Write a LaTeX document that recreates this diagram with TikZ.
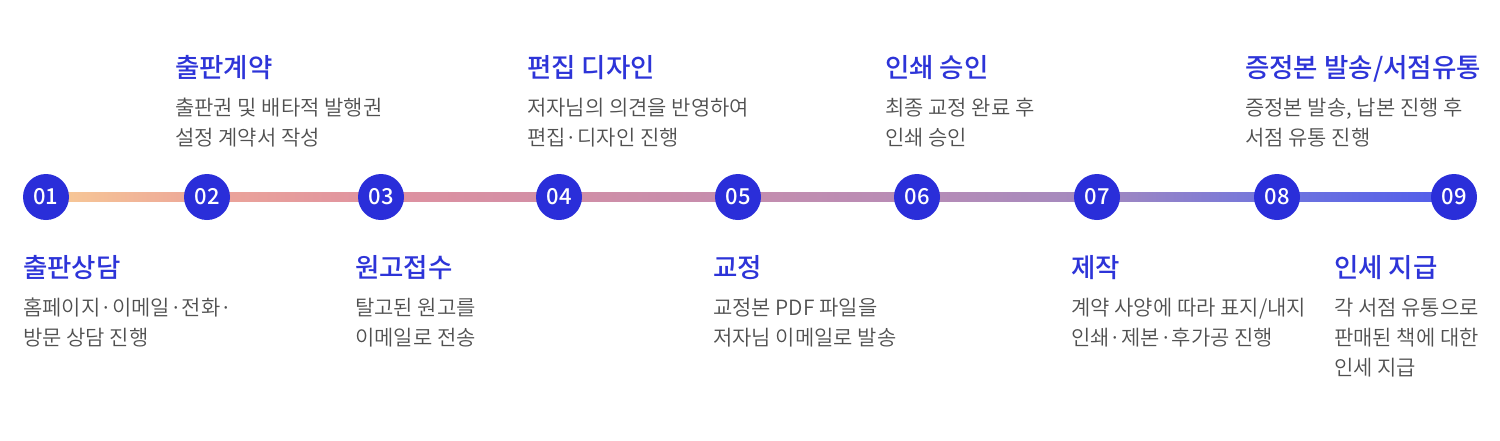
\documentclass[tikz,border=0pt]{standalone}
\usepackage{fontspec}
\newfontfamily\kr{Noto Sans CJK KR DemiLight}
\newfontfamily\krmed{Noto Sans CJK KR Medium}
\usetikzlibrary{calc}
\definecolor{dotblue}{RGB}{42,46,217}
\definecolor{ttlblue}{RGB}{45,52,216}
\definecolor{descgray}{RGB}{80,80,80}
\definecolor{g1}{RGB}{248,203,150}
\definecolor{g2}{RGB}{236,165,153}
\definecolor{g3}{RGB}{223,146,160}
\definecolor{g4}{RGB}{209,142,166}
\definecolor{g5}{RGB}{197,141,174}
\definecolor{g6}{RGB}{183,140,182}
\definecolor{g7}{RGB}{163,137,191}
\definecolor{g8}{RGB}{112,117,222}
\definecolor{g9}{RGB}{80,92,235}
\tikzset{
  numdot/.style={circle, fill=dotblue, minimum size=46pt, inner sep=0pt, text=white, font=\krmed\fontsize{22}{22}\selectfont},
  ttl/.style={anchor=base west, inner sep=0pt, text=ttlblue, font=\krmed\fontsize{26.5}{26.5}\selectfont},
  desc/.style={anchor=base west, inner sep=0pt, text=descgray, font=\kr\fontsize{21}{21}\selectfont},
}
\begin{document}
\begin{tikzpicture}[x=1pt,y=-1pt]
\useasboundingbox (0,0) rectangle (1500,440);
% centres
\coordinate (p1) at (46,197);
\coordinate (p2) at (207,197);
\coordinate (p3) at (381,197);
\coordinate (p4) at (559,197);
\coordinate (p5) at (738,197);
\coordinate (p6) at (917,197);
\coordinate (p7) at (1097,197);
\coordinate (p8) at (1277,197);
\coordinate (p9) at (1454,197);
% gradient bar
\shade[left color=g1, right color=g2] ([yshift=-4.5pt]p1) rectangle ([yshift=4.5pt]p2);
\shade[left color=g2, right color=g3] ([yshift=-4.5pt]p2) rectangle ([yshift=4.5pt]p3);
\shade[left color=g3, right color=g4] ([yshift=-4.5pt]p3) rectangle ([yshift=4.5pt]p4);
\shade[left color=g4, right color=g5] ([yshift=-4.5pt]p4) rectangle ([yshift=4.5pt]p5);
\shade[left color=g5, right color=g6] ([yshift=-4.5pt]p5) rectangle ([yshift=4.5pt]p6);
\shade[left color=g6, right color=g7] ([yshift=-4.5pt]p6) rectangle ([yshift=4.5pt]p7);
\shade[left color=g7, right color=g8] ([yshift=-4.5pt]p7) rectangle ([yshift=4.5pt]p8);
\shade[left color=g8, right color=g9] ([yshift=-4.5pt]p8) rectangle ([yshift=4.5pt]p9);
% dots
\node[numdot] (c01) at (p1) {01};
\node[numdot] (c02) at (p2) {02};
\node[numdot] (c03) at (p3) {03};
\node[numdot] (c04) at (p4) {04};
\node[numdot] (c05) at (p5) {05};
\node[numdot] (c06) at (p6) {06};
\node[numdot] (c07) at (p7) {07};
\node[numdot] (c08) at (p8) {08};
\node[numdot] (c09) at (p9) {09};
% 01
\node[ttl] (t01) at (23,277) {출판상담};
\node[desc] (d01a) at (23,315.5) {홈페이지·이메일·전화·};
\node[desc] (d01b) at (23,345) {방문 상담 진행};
% 02
\node[ttl] (t02) at (175,77) {출판계약};
\node[desc] (d02a) at (175,115.5) {출판권 및 배타적 발행권};
\node[desc] (d02b) at (175,145) {설정 계약서 작성};
% 03
\node[ttl] (t03) at (355,277) {원고접수};
\node[desc] (d03a) at (355,315.5) {탈고된 원고를};
\node[desc] (d03b) at (355,345) {이메일로 전송};
% 04
\node[ttl] (t04) at (527,77) {편집 디자인};
\node[desc] (d04a) at (527,115.5) {저자님의 의견을 반영하여};
\node[desc] (d04b) at (527,145) {편집·디자인 진행};
% 05
\node[ttl] (t05) at (713,277) {교정};
\node[desc] (d05a) at (713,315.5) {교정본 PDF 파일을};
\node[desc] (d05b) at (713,345) {저자님 이메일로 발송};
% 06
\node[ttl] (t06) at (885,77) {인쇄 승인};
\node[desc] (d06a) at (885,115.5) {최종 교정 완료 후};
\node[desc] (d06b) at (885,145) {인쇄 승인};
% 07
\node[ttl] (t07) at (1071,277) {제작};
\node[desc] (d07a) at (1071,315.5) {계약 사양에 따라 표지/내지};
\node[desc] (d07b) at (1071,345) {인쇄·제본·후가공 진행};
% 08
\node[ttl] (t08) at (1245,77) {증정본 발송/서점유통};
\node[desc] (d08a) at (1245,115.5) {증정본 발송, 납본 진행 후};
\node[desc] (d08b) at (1245,145) {서점 유통 진행};
% 09
\node[ttl] (t09) at (1334,277) {인세 지급};
\node[desc] (d09a) at (1334,315.5) {각 서점 유통으로};
\node[desc] (d09b) at (1334,345) {판매된 책에 대한};
\node[desc] (d09c) at (1334,375.5) {인세 지급};
\end{tikzpicture}
\end{document}
